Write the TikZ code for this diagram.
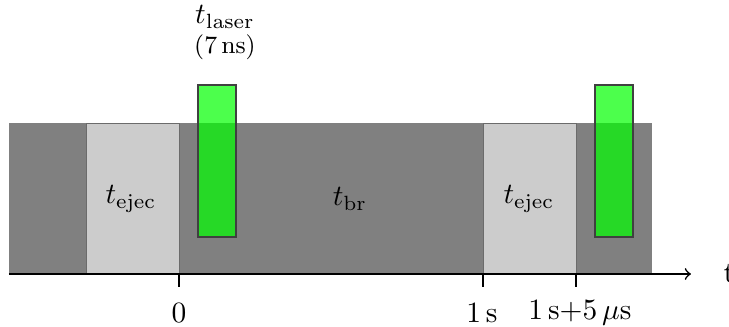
\documentclass[tikz,border=0pt]{standalone}
\begin{document}
\begin{tikzpicture}[x=0.3395pt,y=-0.3395pt,
  band/.style={fill=black!50},
  ejec/.style={fill=black!20, draw=black!58, line width=0.3pt},
  laser/.style={fill=green, fill opacity=0.7, draw=black!75, draw opacity=1, line width=0.4pt},
  axis/.style={line width=0.55pt, ->},
  tickmark/.style={line width=0.4pt},
  lbl/.style={inner sep=0pt}]
\useasboundingbox (0,0) rectangle (729,327);
% band
\fill[band] (9,123) rectangle (652,273);
\filldraw[ejec] (86,123) rectangle (179,273);
\filldraw[ejec] (483,123) rectangle (576,273);
% labels in band
\node[lbl] (ej1) at (131,199) {$t_{\mathrm{ejec}}$};
\node[lbl] (br) at (350,199) {$t_{\mathrm{br}}$};
\node[lbl] (ej2) at (529,199) {$t_{\mathrm{ejec}}$};
% laser pulses
\draw[laser] (198,85) rectangle (236,237);
\draw[laser] (595,85) rectangle (633,237);
% laser label
\node[lbl] (tl) at (225,17) {$t_{\mathrm{laser}}$};
\node[lbl] (tln) at (225,47) {\fontsize{8.5}{10}\selectfont(7\,ns)};
% axis
\coordinate (a0) at (9,274);
\coordinate (a1) at (691,274);
\draw[axis] (a0) -- (a1);
\node[lbl, anchor=west] (tt) at (723,274) {t};
% ticks
\coordinate (k0) at (179,274);
\coordinate (k0b) at (179,287);
\coordinate (k1) at (483,274);
\coordinate (k1b) at (483,287);
\coordinate (k2) at (576,274);
\coordinate (k2b) at (576,287);
\draw[tickmark] (k0) -- (k0b);
\draw[tickmark] (k1) -- (k1b);
\draw[tickmark] (k2) -- (k2b);
\node[lbl] (l0) at (179,313) {$0$};
\node[lbl] (l1) at (482,313) {$1\,\mathrm{s}$};
\node[lbl] (l2) at (580,313) {$1\,\mathrm{s}{+}5\,\mu\mathrm{s}$};
\end{tikzpicture}
\end{document}
